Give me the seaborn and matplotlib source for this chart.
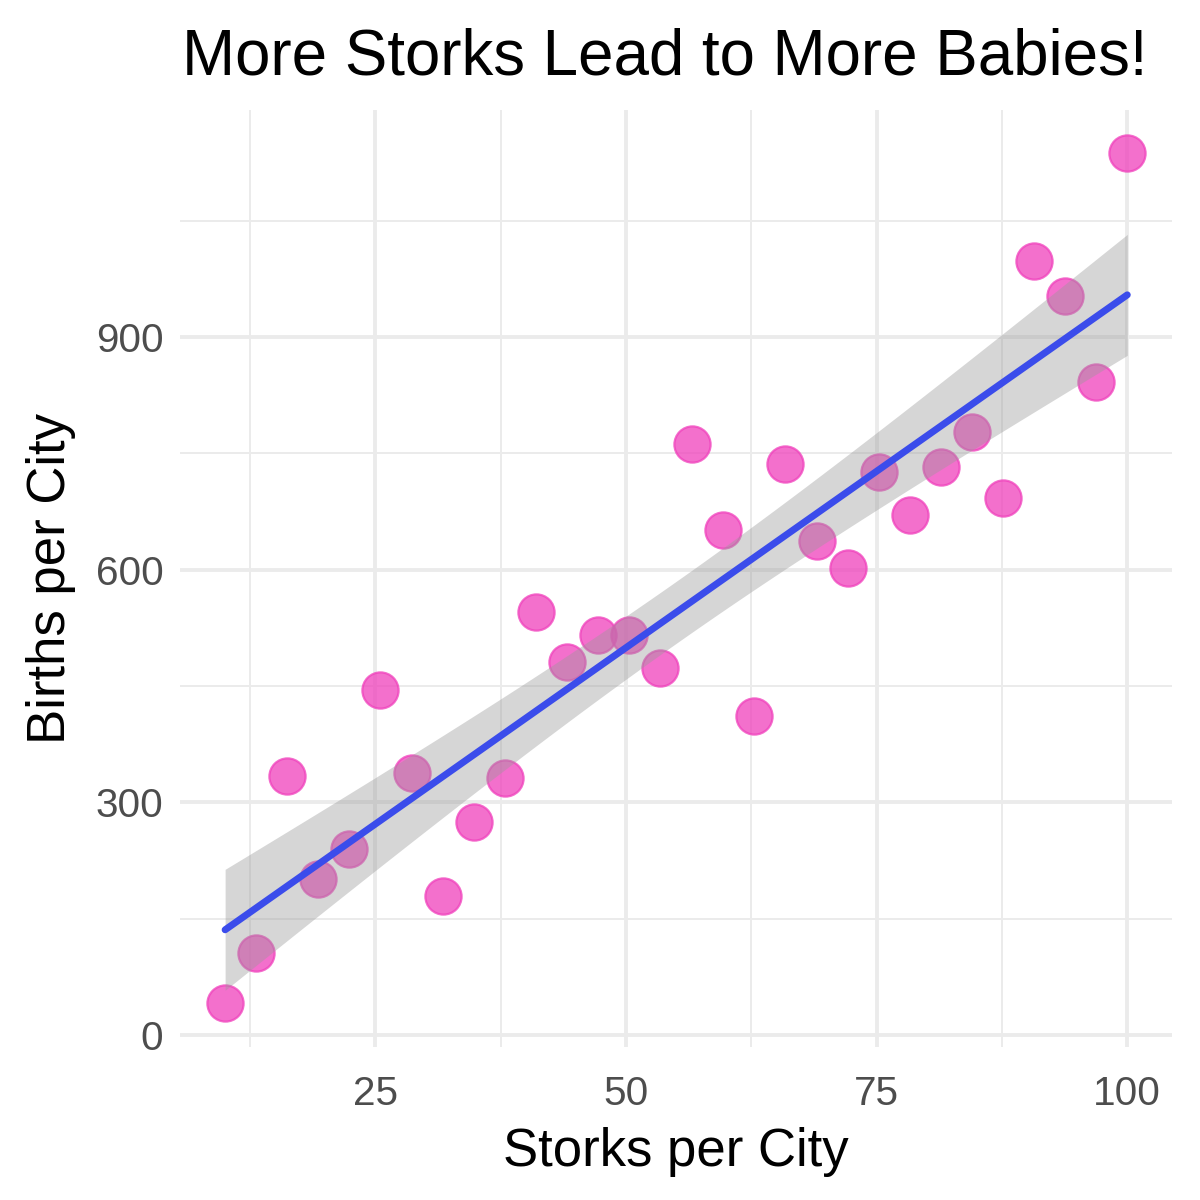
import numpy as np
import pandas as pd
import matplotlib
matplotlib.use("Agg")
import matplotlib.pyplot as plt
from matplotlib.ticker import MultipleLocator
import seaborn as sns

# storks vs births
storks = [10.0, 13.1, 16.2, 19.3, 22.4, 25.5, 28.6, 31.7, 34.8, 37.9,
          41.0, 44.1, 47.2, 50.3, 53.4, 56.6, 59.7, 62.8, 65.9, 69.0,
          72.1, 75.2, 78.3, 81.4, 84.5, 87.6, 90.7, 93.8, 96.9, 100.0]
births = [41, 106, 334, 201, 240, 445, 338, 179, 275, 331,
          545, 481, 516, 516, 473, 762, 651, 411, 736, 637,
          602, 726, 670, 732, 777, 692, 998, 953, 842, 1137]
x_ticks = [25, 50, 75, 100]
y_ticks = [0, 300, 600, 900]

df = pd.DataFrame({"storks": storks, "births": births})

sns.set_theme(style="white")
plt.rcParams["font.family"] = ["Liberation Sans", "DejaVu Sans"]

fig = plt.figure(figsize=(6, 6), dpi=200)
ax = fig.add_axes([0.15, 0.1275, 0.827, 0.7805])

# points first, then the ribbon over them (like ggplot)
sns.scatterplot(data=df, x="storks", y="births", ax=ax, s=170,
                color="#F040BC", alpha=0.75, edgecolor="#F040BC",
                linewidth=0.8, zorder=3)

# linear fit with 95% confidence band
x = df["storks"].to_numpy()
y = df["births"].to_numpy()
n = len(x)
b1, b0 = np.polyfit(x, y, 1)
resid = y - (b0 + b1 * x)
se = np.sqrt(np.sum(resid ** 2) / (n - 2))
xg = np.linspace(x.min(), x.max(), 80)
yg = b0 + b1 * xg
t = 2.048  # t(0.975, 28)
half = t * se * np.sqrt(1 / n + (xg - x.mean()) ** 2 / np.sum((x - x.mean()) ** 2))
ax.fill_between(xg, yg - half, yg + half, color="#999999", alpha=0.4,
                linewidth=0, zorder=4)
sns.lineplot(x=xg, y=yg, ax=ax, color="#3B4CEB", linewidth=2.5, zorder=5)

ax.set_xlim(5.5, 104.5)
ax.set_ylim(-15.5, 1192)
ax.set_xticks(x_ticks)
ax.set_yticks(y_ticks)
ax.xaxis.set_minor_locator(MultipleLocator(12.5))
ax.yaxis.set_minor_locator(MultipleLocator(150))
ax.grid(True, which="major", color="#EBEBEB", linewidth=1.4, zorder=0)
ax.grid(True, which="minor", color="#EBEBEB", linewidth=0.7, zorder=0)
ax.set_axisbelow(True)
for sp in ax.spines.values():
    sp.set_visible(False)
ax.tick_params(which="both", length=0, labelsize=14.6, labelcolor="#4D4D4D")
ax.tick_params(axis="x", pad=10)
ax.tick_params(axis="y", pad=6)

ax.set_xlabel("Storks per City", fontsize=19, color="black", labelpad=5)
ax.set_ylabel("Births per City", fontsize=19, color="black", labelpad=7)
fig.text(0.152, 0.938, "More Storks Lead to More Babies!", fontsize=22.9,
         color="black", ha="left", va="baseline")

fig.savefig("out.png", dpi=200, facecolor="white")
